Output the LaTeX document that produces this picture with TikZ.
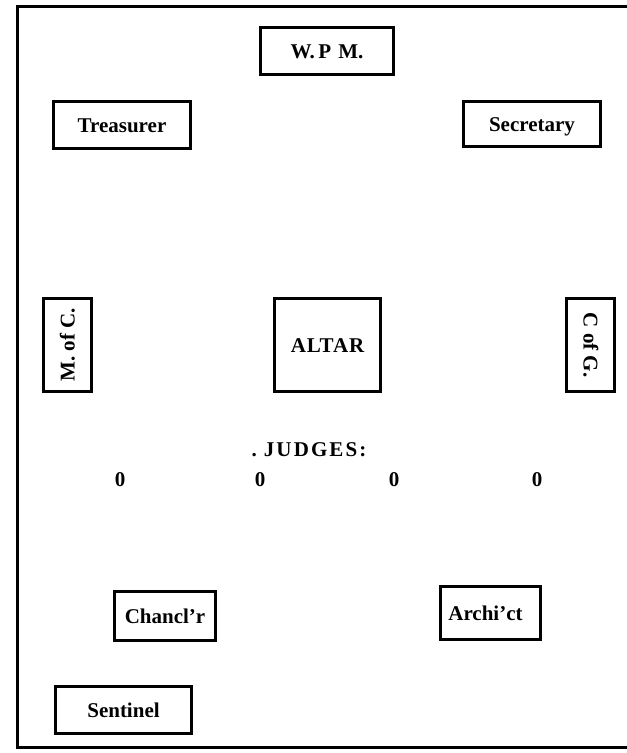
\documentclass[tikz,border=0pt]{standalone}
\usepackage{fontspec}
\setmainfont{Liberation Serif}
\begin{document}
\begin{tikzpicture}[x=1pt,y=-1pt,
  officer/.style={draw, line width=2.9pt, inner sep=0pt,
    text height=14pt, text depth=0pt,
    font=\bfseries\fontsize{21}{24}\selectfont},
  label/.style={inner sep=0pt, font=\bfseries\fontsize{21}{24}\selectfont},
  frameline/.style={line width=3pt}]
\useasboundingbox (0,0) rectangle (627,753);
% frame
\coordinate (tr) at (627,6);
\coordinate (tl) at (17,6);
\coordinate (bl) at (17,747);
\coordinate (br) at (627,747);
\draw[frameline] (tr) -- (tl) -- (bl) -- (br);
% officers
\node[officer, minimum width=133pt, minimum height=47pt] (wpm) at (327,51) {W.\,P\,\,M.};
\node[officer, minimum width=137pt, minimum height=47pt] (treas) at (122,125) {Treasurer};
\node[officer, minimum width=137pt, minimum height=45pt] (sec) at (532,124) {Secretary};
\node[officer, rotate=90, minimum width=93pt, minimum height=48pt] (moc) at (67.5,345) {M. of C.};
\node[officer, minimum width=106pt, minimum height=93pt] (altar) at (327.5,345) {\addfontfeature{LetterSpace=4}ALTAR};
\node[officer, rotate=-90, minimum width=93pt, minimum height=48pt] (cog) at (590.5,345) {C of G.};
\node[label] (judges) at (309,450) {.\hspace{7pt}{\addfontfeature{LetterSpace=10}JUDGES:}};
\node[label] (j1) at (120,480) {0};
\node[label] (j2) at (260,480) {0};
\node[label] (j3) at (394,480) {0};
\node[label] (j4) at (537,480) {0};
\node[officer, minimum width=101pt, minimum height=49pt] (chan) at (165,616) {Chancl’r};
\node[officer, minimum width=100pt, minimum height=53pt] (arch) at (490.5,613) {Archi’ct\rule{10pt}{0pt}};
\node[officer, minimum width=136pt, minimum height=47pt] (sent) at (123.5,710) {Sentinel};
\end{tikzpicture}
\end{document}
